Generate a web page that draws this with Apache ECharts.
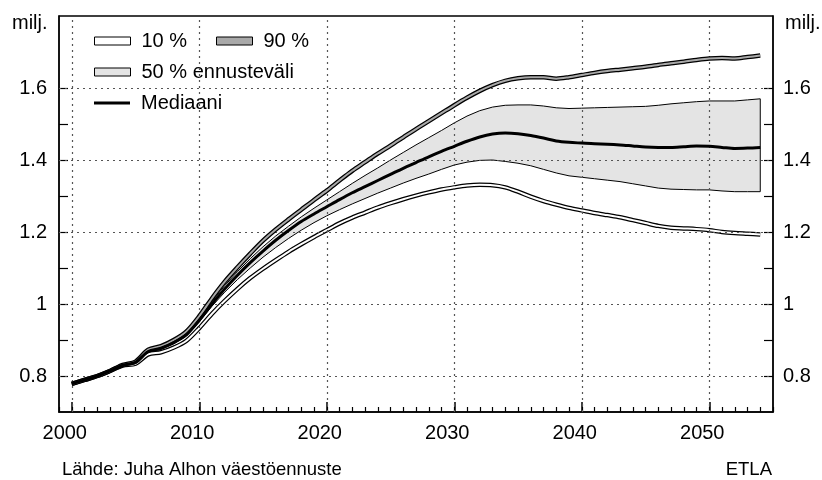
<!DOCTYPE html>
<html>
<head>
<meta charset="utf-8">
<script src="https://cdn.jsdelivr.net/npm/echarts@6/dist/echarts.min.js"></script>
<style>
html,body{margin:0;padding:0;background:#fff;}
#c{width:822px;height:480px;}
</style>
</head>
<body>
<div id="c"></div>
<script>
const years = [2000,2001,2002,2003,2004,2005,2006,2007,2008,2009,2010,2011,2012,2013,2014,2015,2016,2017,2018,2019,2020,2021,2022,2023,2024,2025,2026,2027,2028,2029,2030,2031,2032,2033,2034,2035,2036,2037,2038,2039,2040,2041,2042,2043,2044,2045,2046,2047,2048,2049,2050,2051,2052,2053,2054];
const median = [0.778,0.789,0.800,0.814,0.830,0.838,0.868,0.877,0.893,0.915,0.955,1.000,1.042,1.080,1.115,1.147,1.177,1.204,1.229,1.250,1.270,1.290,1.309,1.326,1.343,1.360,1.377,1.393,1.409,1.424,1.438,1.452,1.464,1.472,1.475,1.473,1.468,1.461,1.453,1.449,1.447,1.445,1.444,1.442,1.439,1.436,1.435,1.435,1.437,1.439,1.438,1.435,1.432,1.433,1.435];
const p90 = [0.778,0.789,0.800,0.814,0.831,0.840,0.873,0.883,0.900,0.924,0.966,1.016,1.062,1.102,1.140,1.176,1.207,1.235,1.262,1.289,1.315,1.343,1.370,1.394,1.418,1.440,1.463,1.486,1.508,1.530,1.552,1.573,1.592,1.608,1.620,1.627,1.630,1.630,1.626,1.630,1.636,1.642,1.647,1.651,1.655,1.659,1.664,1.669,1.673,1.678,1.682,1.683,1.682,1.686,1.690];
const q75 = [0.778,0.789,0.800,0.814,0.830,0.838,0.869,0.879,0.895,0.918,0.959,1.007,1.051,1.090,1.126,1.159,1.189,1.216,1.242,1.266,1.289,1.312,1.335,1.357,1.378,1.400,1.421,1.442,1.462,1.482,1.503,1.522,1.537,1.547,1.552,1.553,1.553,1.550,1.545,1.543,1.544,1.545,1.546,1.547,1.548,1.549,1.552,1.556,1.559,1.562,1.564,1.564,1.564,1.567,1.570];
const q25 = [0.778,0.789,0.800,0.814,0.830,0.837,0.866,0.874,0.889,0.911,0.950,0.994,1.033,1.068,1.100,1.130,1.157,1.182,1.205,1.226,1.245,1.262,1.278,1.293,1.308,1.322,1.336,1.349,1.361,1.374,1.386,1.394,1.399,1.400,1.396,1.391,1.384,1.374,1.364,1.356,1.352,1.348,1.344,1.340,1.334,1.328,1.322,1.319,1.318,1.317,1.317,1.314,1.312,1.312,1.312];
const p10 = [0.778,0.789,0.800,0.814,0.829,0.834,0.860,0.866,0.879,0.898,0.933,0.973,1.009,1.042,1.072,1.098,1.122,1.145,1.166,1.186,1.205,1.224,1.240,1.254,1.268,1.280,1.291,1.301,1.310,1.318,1.324,1.329,1.331,1.330,1.324,1.312,1.298,1.286,1.276,1.267,1.260,1.253,1.247,1.241,1.233,1.225,1.217,1.212,1.210,1.208,1.205,1.200,1.197,1.195,1.193];
const yTickValues = [0.8,0.9,1.0,1.1,1.2,1.3,1.4,1.5,1.6];
const yLabelValues = [0.8,1.0,1.2,1.4,1.6];
const xLabelValues = [2000,2010,2020,2030,2040,2050];
const unitLabel = 'milj.';
const sourceText = 'Lähde: Juha Alhon väestöennuste';
const brandText = 'ETLA';

const FONT = 'Liberation Sans, Arial, sans-serif';
const FS = 20;
const FS_FOOT = 18.5;
const pairs = arr => years.map((y, i) => [y, arr[i]]);
const bandRows = years.map((y, i) => [y, q25[i], q75[i]]);

const gridMarks = yLabelValues.map(v => ({yAxis: v})).concat(xLabelValues.map(v => ({xAxis: v})));

const chart = echarts.init(document.getElementById('c'), null, {renderer: 'canvas'});
const smooth = 0.3;
const lineBase = {type: 'line', symbol: 'none', showSymbol: false, smooth: smooth, silent: true, animation: false};

function legendAt(left, top, item, opts) {
  return Object.assign({
    left: left, top: top, padding: 0, selectedMode: false,
    itemWidth: 36, itemHeight: 8, itemGap: 0,
    textStyle: {fontFamily: FONT, fontSize: FS, color: '#000', padding: [0, 0, 0, 6]},
    data: [item]
  }, opts || {});
}

function renderBand(params, api) {
  if (params.dataIndex !== 0) return null;
  const upper = [], lower = [];
  for (let i = 0; i < bandRows.length; i++) {
    upper.push(api.coord([bandRows[i][0], bandRows[i][2]]));
    lower.push(api.coord([bandRows[i][0], bandRows[i][1]]));
  }
  const pts = upper.concat(lower.reverse());
  return {
    type: 'polygon',
    shape: {points: pts},
    style: {fill: '#e4e4e4', stroke: '#000', lineWidth: 1}
  };
}

chart.setOption({
  animation: false,
  textStyle: {fontFamily: FONT},
  grid: {left: 59, right: 49, top: 16, bottom: 68, show: true, borderColor: '#000', borderWidth: 1.3, backgroundColor: 'transparent'},
  xAxis: [{
    type: 'value', min: 1999, max: 2055, interval: 1, position: 'bottom',
    axisLine: {show: true, onZero: false, lineStyle: {color: '#000', width: 1.5}},
    axisTick: {show: true, inside: true, length: 5, lineStyle: {color: '#000', width: 1.2}},
    axisLabel: {show: true, customValues: xLabelValues, fontFamily: FONT, fontSize: FS, color: '#000', margin: 11,
      padding: [0, 14, 0, 0], formatter: v => String(Math.round(v))},
    splitLine: {show: false}
  }, {
    type: 'value', min: 1999, max: 2055, position: 'bottom',
    axisLine: {show: false},
    axisTick: {show: true, inside: true, length: 10, customValues: xLabelValues, lineStyle: {color: '#000', width: 1.5}},
    axisLabel: {show: false},
    splitLine: {show: false}
  }],
  yAxis: [{
    type: 'value', min: 0.7, max: 1.8, position: 'left',
    axisLine: {show: true, onZero: false, lineStyle: {color: '#000', width: 1.5}},
    axisTick: {show: true, inside: true, length: 9, customValues: yTickValues, lineStyle: {color: '#000', width: 1.2}},
    axisLabel: {show: true, customValues: yLabelValues, fontFamily: FONT, fontSize: FS, color: '#000', margin: 12,
      formatter: v => (Math.abs(v - 1) < 1e-9 ? '1' : v.toFixed(1))},
    splitLine: {show: false}
  }, {
    type: 'value', min: 0.7, max: 1.8, position: 'right',
    axisLine: {show: true, onZero: false, lineStyle: {color: '#000', width: 1.5}},
    axisTick: {show: true, inside: true, length: 9, customValues: yTickValues, lineStyle: {color: '#000', width: 1.2}},
    axisLabel: {show: true, customValues: yLabelValues, fontFamily: FONT, fontSize: FS, color: '#000', margin: 10,
      formatter: v => (Math.abs(v - 1) < 1e-9 ? '1' : v.toFixed(1))},
    splitLine: {show: false}
  }],
  legend: [
    legendAt(94, 31, {name: '10 %', icon: 'rect', itemStyle: {color: '#ffffff', borderColor: '#000', borderWidth: 1}}),
    legendAt(216, 31, {name: '90 %', icon: 'rect', itemStyle: {color: '#a9a9a9', borderColor: '#000', borderWidth: 1}}),
    legendAt(94, 62, {name: '50 % ennusteväli', icon: 'rect', itemStyle: {color: '#e4e4e4', borderColor: '#000', borderWidth: 1}}),
    legendAt(94, 93, {name: 'Mediaani', icon: 'rect', itemStyle: {color: '#000', borderWidth: 0}}, {itemHeight: 3})
  ],
  graphic: [
    {type: 'text', left: 12, top: 13, style: {text: unitLabel, font: FS + 'px ' + FONT, fill: '#000'}},
    {type: 'text', left: 785, top: 13, style: {text: unitLabel, font: FS + 'px ' + FONT, fill: '#000'}},
    {type: 'text', left: 62, top: 460, style: {text: sourceText, font: FS_FOOT + 'px ' + FONT, fill: '#000'}},
    {type: 'text', right: 50, top: 460, style: {text: brandText, font: FS_FOOT + 'px ' + FONT, fill: '#000'}}
  ],
  series: [
    Object.assign({}, lineBase, {
      name: 'grid', data: [], z: 0,
      markLine: {silent: true, symbol: 'none', label: {show: false}, animation: false,
        lineStyle: {type: [2, 4], color: '#555', width: 1.2}, data: gridMarks}
    }),
    {
      type: 'custom', name: '50 % ennusteväli', data: bandRows, z: 1, silent: true, animation: false,
      itemStyle: {color: '#e4e4e4'},
      encode: {x: 0, y: [1, 2]},
      renderItem: renderBand
    },
    Object.assign({}, lineBase, {
      name: 'p10outline', data: pairs(p10), z: 3,
      lineStyle: {color: '#000', width: 4.5, cap: 'butt'}
    }),
    Object.assign({}, lineBase, {
      name: '10 %', data: pairs(p10), z: 4,
      itemStyle: {color: '#fff'}, lineStyle: {color: '#fff', width: 2, cap: 'butt'}
    }),
    Object.assign({}, lineBase, {
      name: 'p90outline', data: pairs(p90), z: 5,
      lineStyle: {color: '#000', width: 4.5, cap: 'butt'}
    }),
    Object.assign({}, lineBase, {
      name: '90 %', data: pairs(p90), z: 6,
      itemStyle: {color: '#a9a9a9'}, lineStyle: {color: '#a9a9a9', width: 2, cap: 'butt'}
    }),
    Object.assign({}, lineBase, {
      name: 'Mediaani', data: pairs(median), z: 7,
      itemStyle: {color: '#000'}, lineStyle: {color: '#000', width: 3}
    })
  ]
});
</script>
</body>
</html>
